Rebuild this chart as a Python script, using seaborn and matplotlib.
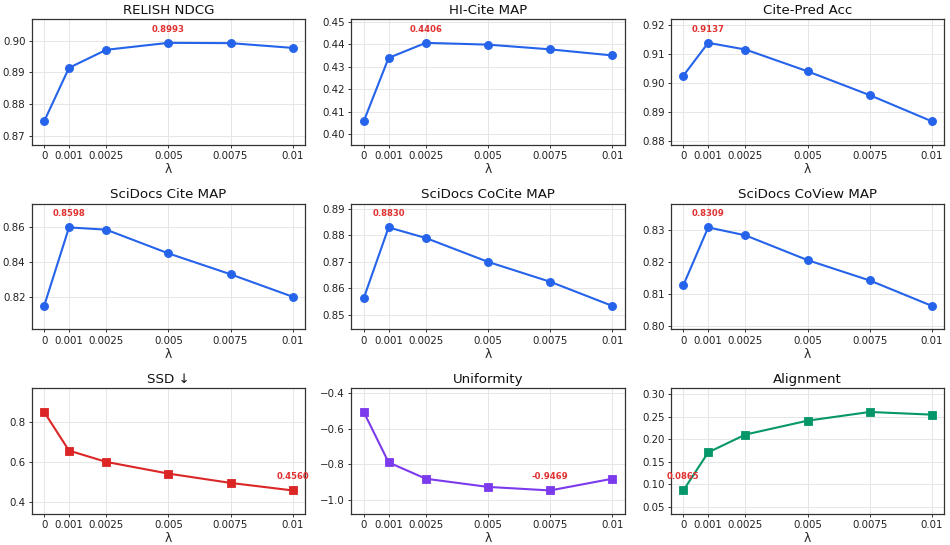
import numpy as np
import pandas as pd
import seaborn as sns
import matplotlib
matplotlib.use("Agg")
import matplotlib.pyplot as plt

lambdas = [0, 0.001, 0.0025, 0.005, 0.0075, 0.01]
lambda_labels = ["0", "0.001", "0.0025", "0.005", "0.0075", "0.01"]

relish_ndcg = [0.8745, 0.8914, 0.8971, 0.8993, 0.8992, 0.8977]
hicite_map = [0.4057, 0.4339, 0.4406, 0.4398, 0.4377, 0.4350]
citepred_acc = [0.9024, 0.9137, 0.9114, 0.9039, 0.8957, 0.8867]
scidocs_cite = [0.8151, 0.8598, 0.8585, 0.8450, 0.8331, 0.8203]
scidocs_cocite = [0.8563, 0.8830, 0.8790, 0.8700, 0.8625, 0.8534]
scidocs_coview = [0.8127, 0.8309, 0.8284, 0.8206, 0.8142, 0.8062]
ssd = [0.852, 0.657, 0.600, 0.541, 0.494, 0.4560]
uniformity = [-0.505, -0.789, -0.881, -0.927, -0.9469, -0.881]
alignment = [0.0865, 0.1708, 0.2104, 0.2411, 0.2604, 0.2545]

titles = ["RELISH NDCG", "HI-Cite MAP", "Cite-Pred Acc",
          "SciDocs Cite MAP", "SciDocs CoCite MAP", "SciDocs CoView MAP",
          "SSD \u2193", "Uniformity", "Alignment"]
series = [relish_ndcg, hicite_map, citepred_acc,
          scidocs_cite, scidocs_cocite, scidocs_coview,
          ssd, uniformity, alignment]
best_mode = ["max", "max", "max", "max", "max", "max", "min", "min", "min"]
colors = ["#2563eb"] * 6 + ["#dc2626", "#7c3aed", "#059669"]
markers = ["o"] * 6 + ["s", "s", "s"]

sns.set_theme(style="whitegrid")
plt.rcParams.update({
    "font.family": ["DejaVu Sans"],
    "axes.edgecolor": "#333333",
    "axes.linewidth": 0.9,
    "grid.color": "#e6e6e6",
    "grid.linewidth": 0.7,
    "xtick.bottom": True,
    "ytick.left": True,
    "xtick.major.size": 2.5,
    "ytick.major.size": 2.5,
    "xtick.major.width": 0.7,
    "ytick.major.width": 0.7,
    "xtick.color": "#333333",
    "ytick.color": "#333333",
    "xtick.labelcolor": "#222222",
    "ytick.labelcolor": "#222222",
})

fig, axes = plt.subplots(3, 3, figsize=(9.5, 5.45), dpi=100)
fig.subplots_adjust(left=0.0334, right=0.994, top=0.9646, bottom=0.0569,
                    wspace=0.169, hspace=0.47)

for ax, title, vals, mode, col, mk in zip(axes.flat, titles, series, best_mode, colors, markers):
    df = pd.DataFrame({"lam": lambdas, "val": vals})
    sns.lineplot(data=df, x="lam", y="val", ax=ax, color=col, marker=mk,
                 linewidth=1.5, markersize=5.8 if mk == "o" else 5.4,
                 markeredgecolor=col, markeredgewidth=0.6)
    ax.set_title(title, fontsize=9.6, color="#111111", pad=4)
    ax.set_xlabel("\u03bb", fontsize=8.8, labelpad=1.5)
    ax.set_ylabel("")
    ax.set_xticks(lambdas)
    ax.set_xticklabels(lambda_labels)
    ax.tick_params(axis="both", labelsize=7.4, pad=2)
    v = np.array(vals)
    r = v.max() - v.min()
    ax.set_ylim(v.min() - 0.3 * r, v.max() + 0.3 * r)
    bi = int(np.argmax(v)) if mode == "max" else int(np.argmin(v))
    ax.annotate(f"{vals[bi]:.4f}", xy=(lambdas[bi], vals[bi]),
                xytext=(0, 6.5), textcoords="offset points",
                ha="center", va="bottom", fontsize=6.1, fontweight="bold",
                color="#e03131", annotation_clip=False)
    for s in ax.spines.values():
        s.set_visible(True)
        s.set_color("#333333")

fig.savefig("out.png", dpi=100)
